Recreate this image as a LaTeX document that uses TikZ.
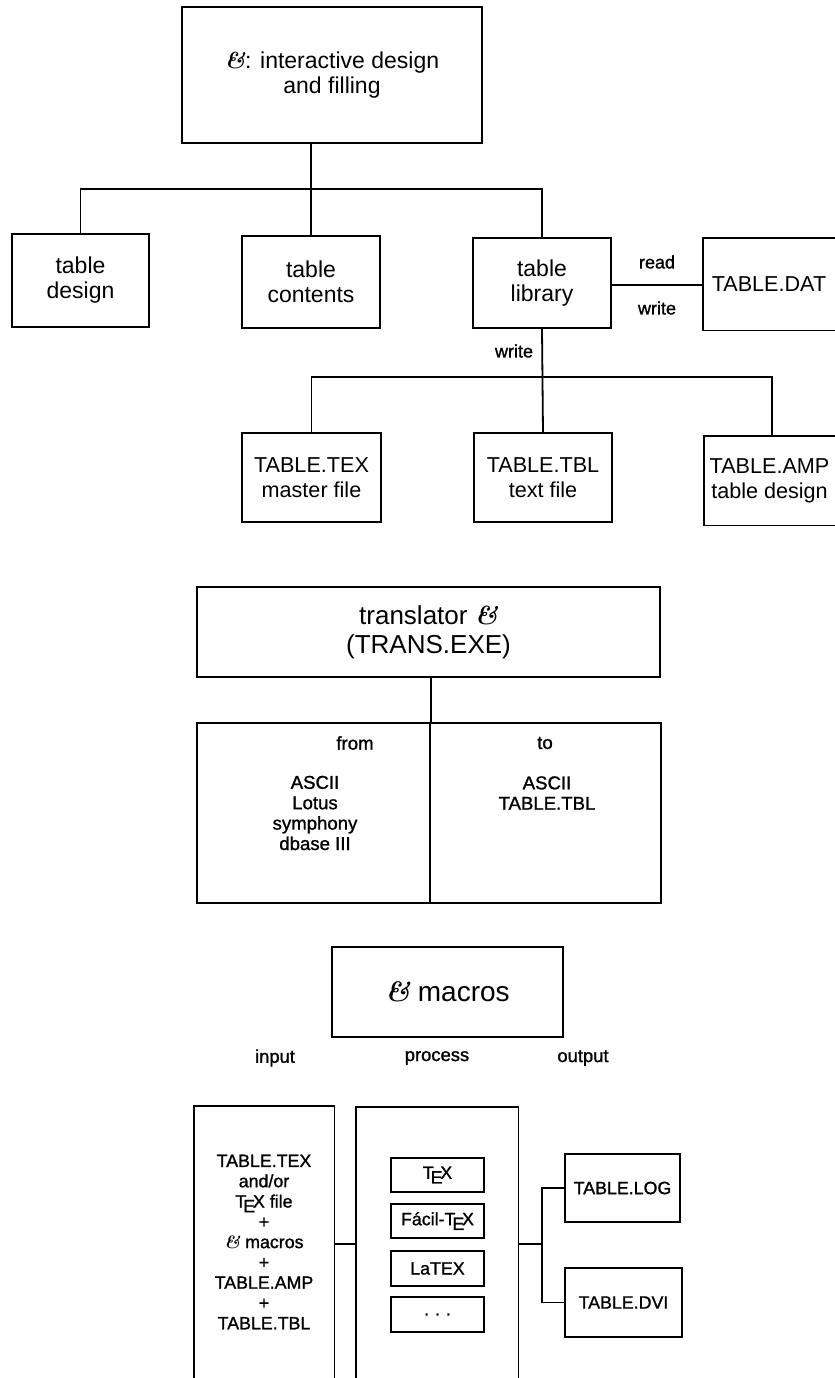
\documentclass[tikz,border=0pt]{standalone}
\usepackage{fontspec}
\setsansfont{Liberation Sans}
\newfontfamily\heavysf{Liberation Sans}[FakeBold=1.2]
\newcommand{\ampsym}{{\rmfamily\bfseries\itshape\&}}
\newcommand{\fs}[2]{\fontsize{#1}{#2}\selectfont}
\tikzset{
  every node/.style={font=\sffamily},
  box/.style={draw, line width=0.9pt, inner sep=0pt, align=center},
  openbox/.style={inner sep=0pt, align=center},
  lbl/.style={inner sep=0pt, align=center},
  link/.style={line width=0.9pt},
}
\begin{document}
\begin{tikzpicture}[x=0.5pt,y=-0.5pt]
\useasboundingbox (0,0) rectangle (835,1378);
\fill[white] (0,0) rectangle (835,1378);

% ---------- top section ----------
\node[box, minimum width=150pt, minimum height=68pt, font=\sffamily\fs{11.5}{12.5}] (top) at (332,75) {\ampsym: interactive design\\and filling};
\node[box, minimum width=68.5pt, minimum height=46.5pt, font=\sffamily\fs{11.5}{12.5}] (design) at (80.5,280.5) {table\\design};
\node[box, minimum width=69pt, minimum height=46pt, font=\sffamily\fs{11.5}{12.5}] (contents) at (311,282) {table\\contents};
\node[box, minimum width=69pt, minimum height=45pt, font=\sffamily\fs{11.5}{12.5}] (library) at (542,283) {table\\library};
\node[openbox, minimum width=66pt, minimum height=46pt, font=\sffamily\fs{10.8}{12.5}] (dat) at (769,284) {TABLE.DAT};
\draw[link] (dat.north east) -- (dat.north west) -- (dat.south west) -- (dat.south east);
\coordinate (bar1) at (0,189);
\draw[link] (top.south -| contents.north) -- (contents.north);
\draw[link] (design.north) |- (bar1 -| library.north) -- (library.north);
\draw[link] (library.east |- 0,285) -- (dat.west |- 0,285);
\node[lbl, font=\heavysf\fs{9}{10}] (read) at (657,262) {read};
\node[lbl, font=\heavysf\fs{9}{10}] (write1) at (657,308) {write};

\node[box, minimum width=69.5pt, minimum height=44.5pt, font=\sffamily\fs{10.8}{12.5}] (tex) at (311.5,477.5) {TABLE.TEX\\master file};
\node[box, minimum width=69pt, minimum height=44.5pt, font=\sffamily\fs{10.8}{12.5}] (tbl) at (543,477.5) {TABLE.TBL\\text file};
\node[openbox, minimum width=65.5pt, minimum height=44.5pt, font=\sffamily\fs{10.8}{12.5}] (amp) at (769.5,480.5) {TABLE.AMP\\table design};
\draw[link] (amp.north east) -- (amp.north west) -- (amp.south west) -- (amp.south east);
\coordinate (bar2) at (0,377);
\coordinate (ampin) at (772,0);
\draw[link] (library.south) -- (tbl.north);
\draw[link] (tex.north) |- (bar2 -| ampin) -- (ampin |- amp.north);
\node[lbl, font=\heavysf\fs{9}{10}] (write2) at (514,351) {write};

% ---------- translator ----------
\node[box, minimum width=231.5pt, minimum height=45pt, font=\sffamily\fs{13}{14.5}] (trans) at (428.5,632) {translator \ampsym\\(TRANS.EXE)};
\node[box, minimum width=116.5pt, minimum height=90pt] (frombox) at (313.5,813) {};
\node[box, minimum width=115.5pt, minimum height=90pt] (tobox) at (545.5,813) {};
\draw[link] (trans.south -| frombox.north east) -- (frombox.north east);
\node[lbl, font=\heavysf\fs{9.3}{10}] (from) at (355,743) {from};
\node[lbl, font=\heavysf\fs{9.3}{10}] (to) at (545,743) {to};
\node[lbl, font=\heavysf\fs{9.3}{10.2}] (fromlist) at (315,813) {ASCII\\Lotus\\symphony\\dbase III};
\node[lbl, font=\heavysf\fs{9.3}{10.2}] (tolist) at (547,793) {ASCII\\TABLE.TBL};

% ---------- macros ----------
\node[box, minimum width=115.5pt, minimum height=45pt, font=\sffamily\fs{14}{16}] (macros) at (447.5,992) {\ampsym{} macros};
\node[lbl, font=\heavysf\fs{9.2}{10}] (input) at (275,1058) {input};
\node[lbl, font=\heavysf\fs{9.2}{10}] (process) at (437,1058) {process};
\node[lbl, font=\heavysf\fs{9.2}{10}] (output) at (583,1058) {output};

\node[openbox, minimum width=70pt, minimum height=136pt, font=\heavysf\fs{8.9}{10.15}] (inbox) at (264,1242)
  {TABLE.TEX\\and/or\\\TeX{} file\\+\\\ampsym{} macros\\+\\TABLE.AMP\\+\\TABLE.TBL};
\draw[link] (inbox.south west) -- (inbox.north west) -- (inbox.north east) -- (inbox.south east);
\node[openbox, minimum width=81pt, minimum height=135.5pt] (procbox) at (437,1242.5) {};
\draw[link] (procbox.south west) -- (procbox.north west) -- (procbox.north east) -- (procbox.south east);
\node[box, minimum width=46.5pt, minimum height=17pt, font=\heavysf\fs{8.9}{10}] (tb1) at (437.5,1175) {\TeX};
\node[box, minimum width=46.5pt, minimum height=17pt, font=\heavysf\fs{8.9}{10}] (tb2) at (437.5,1221) {Fácil-\TeX};
\node[box, minimum width=46.5pt, minimum height=17.5pt, font=\heavysf\fs{8.9}{10}] (tb3) at (437.5,1268.5) {LaTEX};
\node[box, minimum width=46.5pt, minimum height=17.5pt, font=\heavysf\fs{8.9}{10}] (tb4) at (437.5,1314.5) {.\,\,.\,\,.};

\node[box, minimum width=57.5pt, minimum height=34pt, font=\heavysf\fs{8.9}{10}] (log) at (622.5,1188) {TABLE.LOG};
\node[box, minimum width=58.5pt, minimum height=34.5pt, font=\heavysf\fs{8.9}{10}] (dvi) at (623.5,1302.5) {TABLE.DVI};

\coordinate (split) at (542,1244);
\draw[link] (inbox.east |- split) -- (procbox.west |- split);
\draw[link] (procbox.east |- split) -- (split);
\draw[link] (log.west) -| (split) |- (dvi.west);
\end{tikzpicture}
\end{document}
